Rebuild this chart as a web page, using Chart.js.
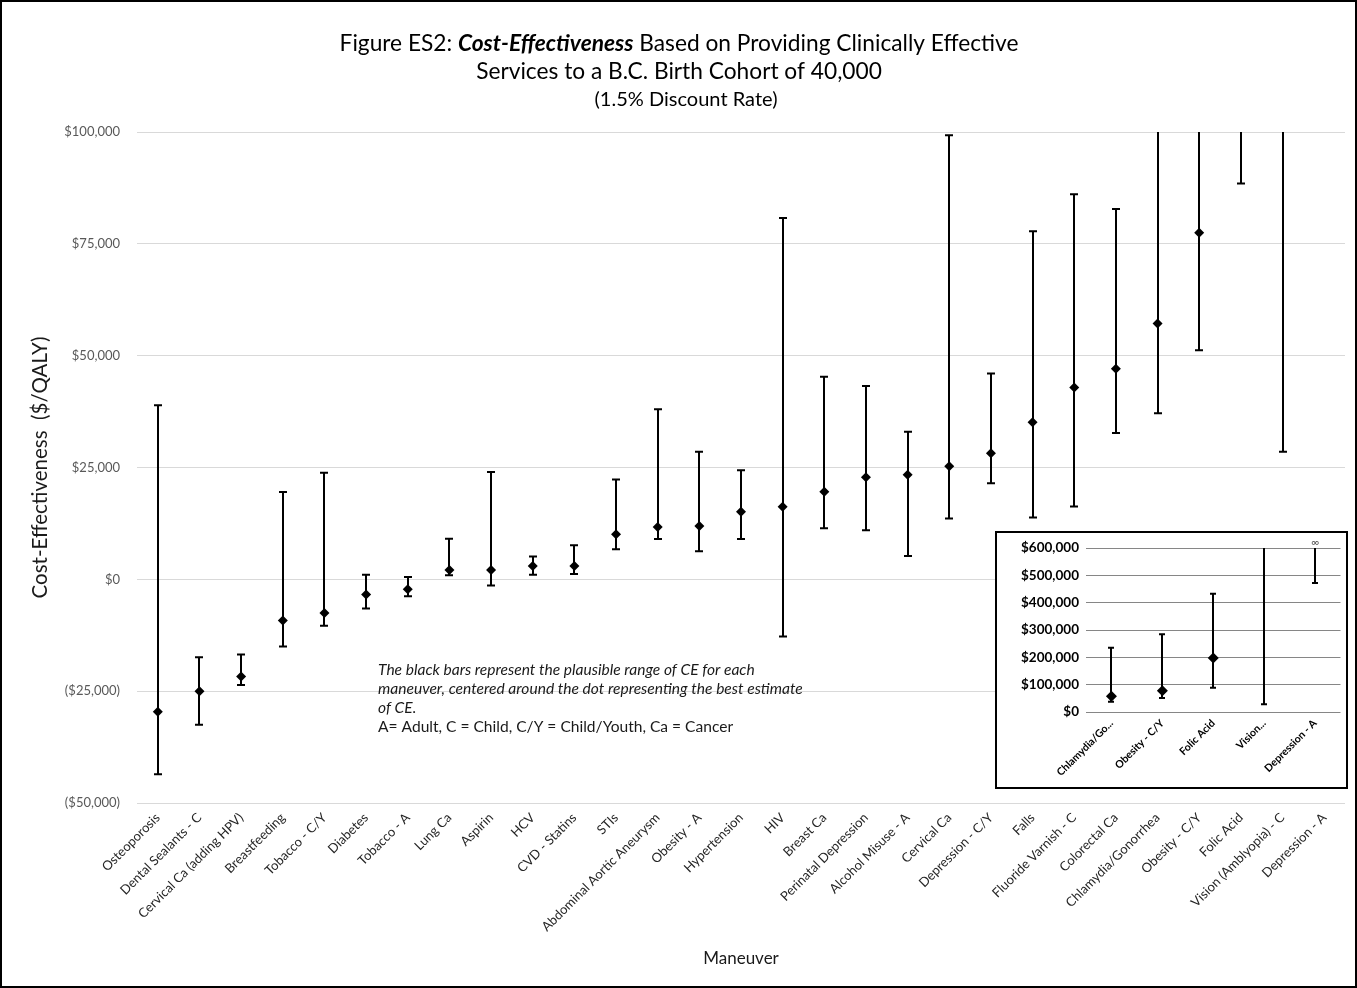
<!DOCTYPE html>
<html>
<head>
<meta charset="utf-8">
<script src="https://cdn.jsdelivr.net/npm/chart.js@4.4.1/dist/chart.umd.min.js"></script>
<style>
  html, body { margin: 0; padding: 0; background: #fff; }
  #wrap { position: relative; width: 1357px; height: 988px; overflow: hidden; background: #fff; }
  #main { position: absolute; left: 0; top: 0; }
  #frame { position: absolute; left: 0; top: 0; width: 1357px; height: 988px; box-sizing: border-box; border: 2px solid #000; pointer-events: none; }
  #insetBox { position: absolute; left: 995px; top: 531px; width: 353px; height: 258px; box-sizing: border-box; border: 2px solid #000; background: #fff; }
  #inset { position: absolute; left: 0; top: 0; }
</style>
</head>
<body>
<div id="wrap">
  <canvas id="main" width="1357" height="988"></canvas>
  <div id="insetBox"><canvas id="inset" width="349" height="254"></canvas></div>
  <div id="frame"></div>
</div>
<script>
// ---------------- DATA ----------------
const categories = [
  'Osteoporosis', 'Dental Sealants - C', 'Cervical Ca (adding HPV)', 'Breastfeeding',
  'Tobacco - C/Y', 'Diabetes', 'Tobacco - A', 'Lung Ca', 'Aspirin', 'HCV',
  'CVD - Statins', 'STIs', 'Abdominal Aortic Aneurysm', 'Obesity - A', 'Hypertension',
  'HIV', 'Breast Ca', 'Perinatal Depression', 'Alcohol Misuse - A', 'Cervical Ca',
  'Depression - C/Y', 'Falls', 'Fluoride Varnish - C', 'Colorectal Ca',
  'Chlamydia/Gonorrhea', 'Obesity - C/Y', 'Folic Acid', 'Vision (Amblyopia) - C', 'Depression - A'
];
// best estimate ($/QALY)
const estimate = [
  -29600, -25000, -21700, -9200, -7500, -3400, -2200, 2100, 2100, 3000,
  3000, 10100, 11700, 11900, 15100, 16200, 19600, 22800, 23400, 25300,
  28200, 35100, 42900, 47100, 57200, 77500, 198000, null, null
];
// plausible range, lower bound
const lower = [
  -43600, -32500, -23600, -15000, -10400, -6500, -3800, 900, -1400, 1000,
  1200, 6700, 9000, 6300, 9000, -12800, 11400, 11000, 5200, 13600,
  21500, 13800, 16300, 32700, 37100, 51200, 88500, 28500, 472000
];
// plausible range, upper bound (Infinity = unbounded, shown as ∞)
const upper = [
  38900, -17400, -16800, 19500, 23800, 1000, 500, 9100, 24000, 5100,
  7600, 22300, 38000, 28500, 24400, 80800, 45300, 43200, 33000, 99300,
  46000, 77800, 86100, 82800, 235000, 285000, 433000, 700000, Infinity
];
const yTicks = [-50000, -25000, 0, 25000, 50000, 75000, 100000];

// inset (last five maneuvers on an expanded scale)
const insetCategories = ['Chlamydia/Go...', 'Obesity - C/Y', 'Folic Acid', 'Vision...', 'Depression - A'];
const insetFirstIndex = 24;
const insetYTicks = [0, 100000, 200000, 300000, 400000, 500000, 600000];

// text
const titleLine1 = [
  { text: 'Figure ES2: ', style: '' },
  { text: 'Cost-Effectiveness', style: 'italic bold' },
  { text: ' Based on Providing Clinically Effective', style: '' }
];
const titleLine2 = 'Services to a B.C. Birth Cohort of 40,000';
const titleLine3 = '(1.5% Discount Rate)';
const noteLines = [
  'The black bars represent the plausible range of CE for each',
  'maneuver, centered around the dot representing the best estimate',
  'of CE.',
  'A= Adult, C = Child, C/Y = Child/Youth, Ca = Cancer'
];

// ---------------- HELPERS ----------------
const FAMILY = 'Lato, "Open Sans", sans-serif';

function fmtMoney(v) {
  const s = '$' + Math.abs(v).toLocaleString('en-US');
  return v < 0 ? '(' + s + ')' : s;
}

function segWidth(ctx, segs, size) {
  let w = 0;
  segs.forEach(s => { ctx.font = `${s.style} ${size}px ${FAMILY}`; w += ctx.measureText(s.text).width; });
  return w;
}
function fitSize(ctx, segs, target) {
  return 100 * target / segWidth(ctx, segs, 100);
}
function drawSegs(ctx, segs, cx, cy, size) {
  const w = segWidth(ctx, segs, size);
  let x = cx - w / 2;
  ctx.textAlign = 'left';
  segs.forEach(s => {
    ctx.font = `${s.style} ${size}px ${FAMILY}`;
    ctx.fillText(s.text, x, cy);
    x += ctx.measureText(s.text).width;
  });
}

const errorBarPlugin = {
  id: 'errbars',
  beforeDatasetsDraw(chart, args, opts) {
    const { ctx, chartArea: a, scales: { x, y } } = chart;
    ctx.save();
    ctx.beginPath();
    ctx.rect(a.left, a.top, a.right - a.left, a.bottom - a.top);
    ctx.clip();
    ctx.strokeStyle = '#000';
    ctx.lineWidth = opts.lineWidth;
    const half = opts.capWidth / 2;
    opts.lower.forEach((lo, i) => {
      const hi = opts.upper[i];
      const px = Math.round(x.getPixelForValue(i));
      const yl = y.getPixelForValue(lo);
      const yh = isFinite(hi) ? y.getPixelForValue(hi) : a.top - 20;
      ctx.beginPath();
      ctx.moveTo(px, yl); ctx.lineTo(px, yh);
      ctx.moveTo(px - half, yl); ctx.lineTo(px + half, yl);
      if (isFinite(hi)) { ctx.moveTo(px - half, yh); ctx.lineTo(px + half, yh); }
      ctx.stroke();
    });
    ctx.restore();
    if (opts.infinityMark) {
      ctx.save();
      ctx.fillStyle = '#555';
      ctx.font = `11px ${FAMILY}`;
      ctx.textAlign = 'center';
      ctx.textBaseline = 'middle';
      opts.upper.forEach((hi, i) => {
        if (!isFinite(hi)) ctx.fillText('\u221E', x.getPixelForValue(i), a.top - 6);
      });
      ctx.restore();
    }
  }
};

const textPlugin = {
  id: 'texts',
  afterDraw(chart) {
    const ctx = chart.ctx;
    ctx.save();
    ctx.fillStyle = '#000';
    ctx.textBaseline = 'middle';
    const tSize = fitSize(ctx, titleLine1, 679);
    drawSegs(ctx, titleLine1, 679, 44, tSize);
    drawSegs(ctx, [{ text: titleLine2, style: '' }], 679, 72, tSize);
    const t3 = fitSize(ctx, [{ text: titleLine3, style: '' }], 183);
    drawSegs(ctx, [{ text: titleLine3, style: '' }], 686, 100, t3);

    const nSize = fitSize(ctx, [{ text: noteLines[0], style: 'italic' }], 377);
    ctx.textAlign = 'left';
    ctx.fillStyle = '#1a1a1a';
    const ys = [670, 689, 708, 727];
    noteLines.forEach((l, i) => {
      ctx.font = `${i < 3 ? 'italic ' : ''}${nSize}px ${FAMILY}`;
      ctx.fillText(l, 378, ys[i]);
    });
    ctx.restore();
  }
};

// ---------------- MAIN CHART ----------------
new Chart(document.getElementById('main'), {
  type: 'line',
  data: {
    labels: categories,
    datasets: [{
      data: estimate,
      showLine: false,
      pointStyle: 'rectRot',
      pointRadius: 5,
      pointHoverRadius: 5,
      pointBackgroundColor: '#000',
      pointBorderColor: '#000',
      pointBorderWidth: 0,
      clip: 3
    }]
  },
  options: {
    responsive: false,
    animation: false,
    devicePixelRatio: 1,
    layout: { padding: { top: 132, right: 12, bottom: 0, left: 0 } },
    plugins: {
      legend: { display: false },
      tooltip: { enabled: false },
      errbars: { lower: lower, upper: upper, lineWidth: 2, capWidth: 8, infinityMark: false }
    },
    scales: {
      x: {
        type: 'category',
        offset: true,
        grid: { display: false, drawTicks: false },
        border: { display: false },
        ticks: {
          autoSkip: false, minRotation: 45, maxRotation: 45, padding: 7,
          color: '#262626', font: { family: FAMILY, size: 13 }
        },
        title: {
          display: true, text: 'Maneuver', color: '#1a1a1a',
          font: { family: FAMILY, size: 17 }, padding: { top: 0, bottom: 19 }
        },
        afterFit: s => { s.height = 185; }
      },
      y: {
        min: -50000, max: 100000,
        afterBuildTicks: s => { s.ticks = yTicks.map(v => ({ value: v })); },
        grid: { color: '#d9d9d9', lineWidth: 1, drawTicks: false },
        border: { display: false },
        ticks: {
          padding: 17, color: '#595959', font: { family: FAMILY, size: 13 },
          callback: v => fmtMoney(v)
        },
        title: {
          display: true, text: 'Cost-Effectiveness  ($/QALY)', color: '#1a1a1a',
          font: { family: FAMILY, size: 20.5 }, padding: { top: 28, bottom: 0 }
        },
        afterFit: s => { s.width = 137; }
      }
    }
  },
  plugins: [errorBarPlugin, textPlugin]
});

// ---------------- INSET CHART ----------------
new Chart(document.getElementById('inset'), {
  type: 'line',
  data: {
    labels: insetCategories,
    datasets: [{
      data: estimate.slice(insetFirstIndex),
      showLine: false,
      pointStyle: 'rectRot',
      pointRadius: 5.5,
      pointHoverRadius: 5.5,
      pointBackgroundColor: '#000',
      pointBorderColor: '#000',
      pointBorderWidth: 0,
      clip: 3
    }]
  },
  options: {
    responsive: false,
    animation: false,
    devicePixelRatio: 1,
    layout: { padding: { top: 11, right: 0, bottom: 0, left: 0 } },
    plugins: {
      legend: { display: false },
      tooltip: { enabled: false },
      errbars: {
        lower: lower.slice(insetFirstIndex), upper: upper.slice(insetFirstIndex),
        lineWidth: 2, capWidth: 6, infinityMark: true
      }
    },
    scales: {
      x: {
        type: 'category',
        offset: true,
        grid: { display: false, drawTicks: false },
        border: { display: false },
        ticks: {
          autoSkip: false, minRotation: 45, maxRotation: 45, padding: 5,
          color: '#000', font: { family: FAMILY, size: 10.5, weight: 'bold' }
        },
        afterFit: s => { s.height = 75; }
      },
      y: {
        min: 0, max: 600000,
        afterBuildTicks: s => { s.ticks = insetYTicks.map(v => ({ value: v })); },
        grid: { color: '#868686', lineWidth: 1, drawTicks: false },
        border: { display: false },
        ticks: {
          padding: 7, color: '#000', font: { family: FAMILY, size: 13.5, weight: 'bold' },
          callback: v => fmtMoney(v)
        },
        afterFit: s => { s.width = 89; }
      }
    }
  },
  plugins: [errorBarPlugin]
});
</script>
</body>
</html>
